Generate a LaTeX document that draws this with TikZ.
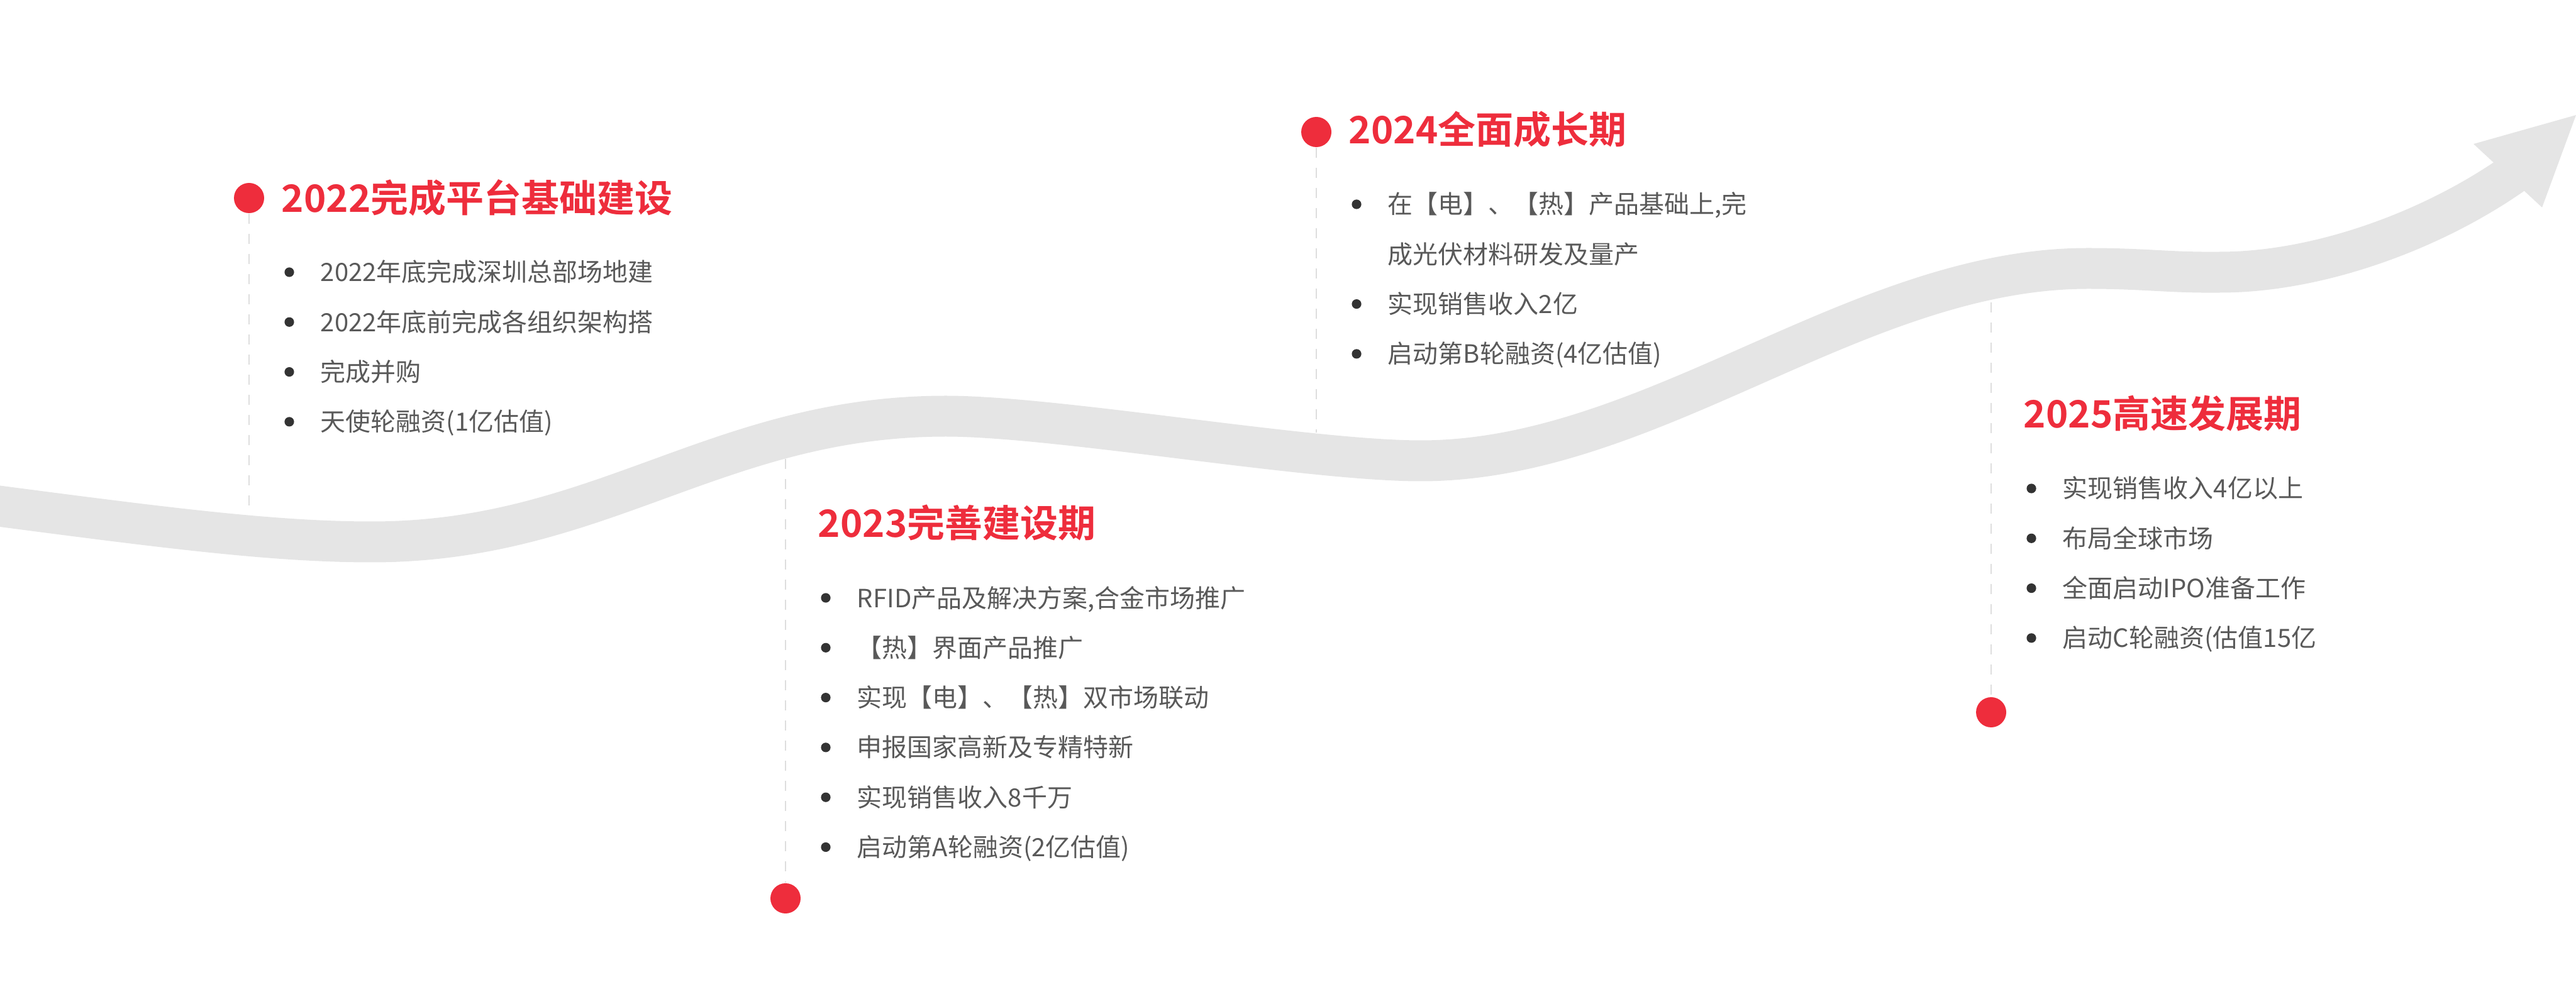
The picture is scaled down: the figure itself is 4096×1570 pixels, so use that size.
\documentclass[tikz,border=0pt]{standalone}
\usepackage{fontspec}
\newfontfamily\cjk[BoldFont={Noto Sans CJK SC Bold}]{Noto Sans CJK SC}
\definecolor{bandgray}{HTML}{E5E5E5}
\definecolor{dotred}{HTML}{EE2D3C}
\definecolor{txtgray}{HTML}{595959}
\definecolor{bulletdark}{HTML}{333333}
\definecolor{dashgray}{HTML}{DEDEDE}
\begin{document}
\begin{tikzpicture}[x=0.25pt,y=-0.25pt,
  band/.style={draw=bandgray, line width=16.25pt, line cap=butt},
  reddot/.style={circle, fill=dotred, inner sep=0pt, minimum size=12pt},
  guide/.style={draw=dashgray, line width=0.6pt, dash pattern=on 4pt off 4pt},
  ttl/.style={anchor=base west, inner sep=0pt, text=dotred, font=\cjk\bfseries\fontsize{15pt}{18pt}\selectfont},
  itm/.style={anchor=base west, inner sep=0pt, text=txtgray, font=\cjk\fontsize{10pt}{12pt}\selectfont},
  bul/.style={circle, fill=bulletdark, inner sep=0pt, minimum size=3.8pt},
]
\useasboundingbox (0,0) rectangle (4096,1570);

% ---- band arrow ----
\draw[band] (-40,800) .. controls (250,838) and (430,862) .. (591,862)
  .. controls (955,862) and (1140,662) .. (1504,662)
  .. controls (1680,662) and (2080,733) .. (2259,733)
  .. controls (2627,733) and (2952,427) .. (3320,427)
  .. controls (3410,427) and (3450,434) .. (3530,433)
  .. controls (3690,433) and (3875,364) .. (4005,270);
\fill[bandgray] (3933,229) -- (4096,183) -- (4042,330) -- cycle;

% ---- band-edge coordinates ----
\coordinate (e22) at (396,819);
\coordinate (e23) at (1249,730);
\coordinate (e24) at (2093,688);
\coordinate (e25) at (3166,481);

% ---- dots ----
\node[reddot] (d22) at (396,315) {};
\node[reddot] (d23) at (1249,1429) {};
\node[reddot] (d24) at (2093,210) {};
\node[reddot] (d25) at (3166,1133) {};

% ---- dashed guides ----
\draw[guide] (d22) -- (e22);
\draw[guide] (e23) -- (d23);
\draw[guide] (d24) -- (e24);
\draw[guide] (e25) -- (d25);

% ---- 2022 ----
\node[ttl] (t22) at (447,338) {2022完成平台基础建设};
\node[bul] (b22a) at (460,433) {};
\node[bul] (b22b) at (460,512.3) {};
\node[bul] (b22c) at (460,591.6) {};
\node[bul] (b22d) at (460,670.9) {};
\node[itm] (i22a) at (509,448) {2022年底完成深圳总部场地建};
\node[itm] (i22b) at (509,527.3) {2022年底前完成各组织架构搭};
\node[itm] (i22c) at (509,606.6) {完成并购};
\node[itm] (i22d) at (509,685.9) {天使轮融资(1亿估值)};

% ---- 2023 ----
\node[ttl] (t23) at (1300,855) {2023完善建设期};
\node[bul] (b23a) at (1313,951) {};
\node[bul] (b23b) at (1313,1030.3) {};
\node[bul] (b23c) at (1313,1109.6) {};
\node[bul] (b23d) at (1313,1188.9) {};
\node[bul] (b23e) at (1313,1268.2) {};
\node[bul] (b23f) at (1313,1347.5) {};
\node[itm] (i23a) at (1362,966) {RFID产品及解决方案,合金市场推广};
\node[itm] (i23b) at (1362,1045.3) {【热】界面产品推广};
\node[itm] (i23c) at (1362,1124.6) {实现【电】、【热】双市场联动};
\node[itm] (i23d) at (1362,1203.9) {申报国家高新及专精特新};
\node[itm] (i23e) at (1362,1283.2) {实现销售收入8千万};
\node[itm] (i23f) at (1362,1362.5) {启动第A轮融资(2亿估值)};

% ---- 2024 ----
\node[ttl] (t24) at (2144,229) {2024全面成长期};
\node[bul] (b24a) at (2157,325) {};
\node[bul] (b24c) at (2157,483.6) {};
\node[bul] (b24d) at (2157,562.9) {};
\node[itm] (i24a) at (2206,340) {在【电】、【热】产品基础上,完};
\node[itm] (i24b) at (2206,419.3) {成光伏材料研发及量产};
\node[itm] (i24c) at (2206,498.6) {实现销售收入2亿};
\node[itm] (i24d) at (2206,577.9) {启动第B轮融资(4亿估值)};

% ---- 2025 ----
\node[ttl] (t25) at (3217,681) {2025高速发展期};
\node[bul] (b25a) at (3230,777) {};
\node[bul] (b25b) at (3230,856.3) {};
\node[bul] (b25c) at (3230,935.6) {};
\node[bul] (b25d) at (3230,1014.9) {};
\node[itm] (i25a) at (3279,792) {实现销售收入4亿以上};
\node[itm] (i25b) at (3279,871.3) {布局全球市场};
\node[itm] (i25c) at (3279,950.6) {全面启动IPO准备工作};
\node[itm] (i25d) at (3279,1029.9) {启动C轮融资(估值15亿};
\end{tikzpicture}
\end{document}
